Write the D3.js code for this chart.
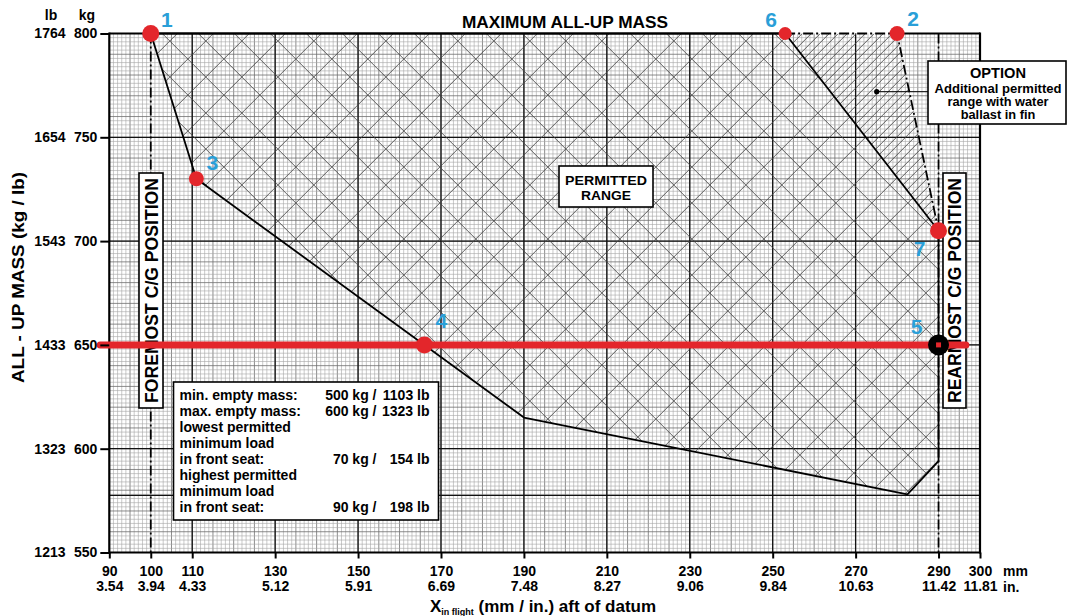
<!DOCTYPE html>
<html><head><meta charset="utf-8">
<script src="https://cdn.jsdelivr.net/npm/d3@7"></script>
<style>
html,body{margin:0;padding:0;background:#fff;}
svg{display:block;font-family:"Liberation Sans",Arial,Helvetica,sans-serif;font-weight:bold;}
</style></head><body>
<svg id="c" width="1067" height="616"></svg>
<script>
// ---------- data ----------
const mmTicks = [90,100,110,130,150,170,190,210,230,250,270,290,300];
const inchLabels = ["3.54","3.94","4.33","5.12","5.91","6.69","7.48","8.27","9.06","9.84","10.63","11.42","11.81"];
const kgTicks = [550,600,650,700,750,800];
const lbLabels = ["1213","1323","1433","1543","1654","1764"];
const majorMm = [110,130,150,170,190,210,230,250,270];
const majorKg = [600,650,700,750];
const seamKg = [577.5];
const envelopeMm = [100,111,190,282.5,290,290,253];
const envelopeKg = [800,730,615,578,594,705,800];
const optionMm = [253,280,290];
const optionKg = [800,800,705];
const pointIds = ["1","2","3","4","5","6","7"];
const pointMm = [100,280,111,166,290,253,290];
const pointKg = [800,800,730,650,650,800,705];
const foreCG = 100, rearCG = 290;
const loadKg = 650, loadFromMm = 87.8, loadToMm = 296.6;
const legendLeft = ["min. empty mass:","max. empty mass:","lowest permitted","minimum load","in front seat:","highest permitted","minimum load","in front seat:"];
const legendMid = ["500 kg /","600 kg /","","","70 kg /","","","90 kg /"];
const legendRight = ["1103 lb","1323 lb","","","154 lb","","","198 lb"];

// ---------- drawing ----------
const svg = d3.select("#c");
const x = d3.scaleLinear().domain([90,300]).range([109.3,980]);
const y = d3.scaleLinear().domain([550,800]).range([552.5,33.5]);
const X0 = x(90), X1 = x(300), Y0 = y(800), Y1 = y(550);
const RED = "#e3262b", BLUE = "#2a9fd8";

svg.append("rect").attr("width",1067).attr("height",616).attr("fill","#fff");

// fine grid
const grid = svg.append("g");
grid.selectAll(".fx").data(d3.range(91,300,1)).join("line")
  .attr("x1",d=>x(d)).attr("x2",d=>x(d)).attr("y1",Y0).attr("y2",Y1)
  .attr("stroke",d=>d%5===0?"#6e6e6e":"#a6a6a6").attr("stroke-width",d=>d%5===0?0.8:0.6);
grid.selectAll(".fy").data(d3.range(552,800,2)).join("line")
  .attr("y1",d=>y(d)).attr("y2",d=>y(d)).attr("x1",X0).attr("x2",X1)
  .attr("stroke",d=>d%10===0?"#6e6e6e":"#a6a6a6").attr("stroke-width",d=>d%10===0?0.8:0.6);
// major grid
grid.selectAll(".mx").data(majorMm).join("line")
  .attr("x1",d=>x(d)).attr("x2",d=>x(d)).attr("y1",Y0).attr("y2",Y1)
  .attr("stroke","#111").attr("stroke-width",1.3);
grid.selectAll(".my").data(majorKg.concat(seamKg)).join("line")
  .attr("y1",d=>y(d)).attr("y2",d=>y(d)).attr("x1",X0).attr("x2",X1)
  .attr("stroke","#111").attr("stroke-width",1.3);

// clip paths
const defs = svg.append("defs");
const envPts = envelopeMm.map((v,i)=>[x(v),y(envelopeKg[i])]);
const optPts = optionMm.map((v,i)=>[x(v),y(optionKg[i])]);
defs.append("clipPath").attr("id","envClip").append("path").attr("d",d3.line()(envPts)+"Z");
defs.append("clipPath").attr("id","optClip").append("path").attr("d",d3.line()(optPts)+"Z");

// cross hatch in permitted range
const H = Y1 - Y0;
const hatch = svg.append("g").attr("clip-path","url(#envClip)");
const hs = d3.range(X0 - H - 40, X1 + 40, 36);
hatch.selectAll(".h1").data(hs).join("line")
  .attr("x1",d=>d).attr("y1",Y0).attr("x2",d=>d+H).attr("y2",Y1)
  .attr("stroke","#454545").attr("stroke-width",0.85);
hatch.selectAll(".h2").data(hs).join("line")
  .attr("x1",d=>d).attr("y1",Y1).attr("x2",d=>d+H).attr("y2",Y0)
  .attr("stroke","#454545").attr("stroke-width",0.85);
// single hatch in optional range
const ohatch = svg.append("g").attr("clip-path","url(#optClip)");
ohatch.selectAll("line").data(d3.range(X0 - H, X1 + 20, 9)).join("line")
  .attr("x1",d=>d).attr("y1",Y1).attr("x2",d=>d+H).attr("y2",Y0)
  .attr("stroke","#454545").attr("stroke-width",0.85);

// CG dash-dot lines
svg.selectAll(".cg").data([foreCG,rearCG]).join("line")
  .attr("x1",d=>x(d)).attr("x2",d=>x(d)).attr("y1",Y0).attr("y2",Y1)
  .attr("stroke","#000").attr("stroke-width",1.8).attr("stroke-dasharray","10,3,2,3");

// envelope outline
svg.append("path").attr("d",d3.line()(envPts)+"Z")
  .attr("fill","none").attr("stroke","#000").attr("stroke-width",1.8).attr("stroke-linejoin","round");
// option edges (dash-dot)
svg.append("path").attr("d",d3.line()([optPts[0],optPts[1],optPts[2]]))
  .attr("fill","none").attr("stroke","#000").attr("stroke-width",1.8).attr("stroke-dasharray","10,3,2,3");

// frame
const frame = svg.append("g").attr("stroke","#000").attr("stroke-width",2.2);
frame.append("line").attr("x1",X0).attr("x2",X0).attr("y1",Y0-1).attr("y2",Y1+1);
frame.append("line").attr("x1",X1).attr("x2",X1).attr("y1",Y0-1).attr("y2",Y1+1);
frame.append("line").attr("x1",X0).attr("x2",X1).attr("y1",Y1).attr("y2",Y1);
frame.append("line").attr("x1",X0).attr("x2",x(optionMm[0])).attr("y1",Y0).attr("y2",Y0);
frame.append("line").attr("x1",x(optionMm[1])).attr("x2",X1).attr("y1",Y0).attr("y2",Y0);

// text boxes
function box(x0,y0,w,h){
  svg.append("rect").attr("x",x0).attr("y",y0).attr("width",w).attr("height",h)
    .attr("fill","#fff").attr("stroke","#000").attr("stroke-width",1.6);
}
box(139,173,24,235);
svg.append("text").attr("transform","translate(151.5,290.5) rotate(-90)")
  .attr("text-anchor","middle").attr("dy","0.36em").attr("font-size",17.5)
  .attr("textLength",225).attr("lengthAdjust","spacingAndGlyphs").text("FOREMOST C/G POSITION");
box(943,173,23,235);
svg.append("text").attr("transform","translate(955,290.5) rotate(-90)")
  .attr("text-anchor","middle").attr("dy","0.36em").attr("font-size",17.5)
  .attr("textLength",225).attr("lengthAdjust","spacingAndGlyphs").text("REARMOST C/G POSITION");

// permitted range box
box(559,166,94,41);
svg.append("text").attr("x",606).attr("y",185).attr("text-anchor","middle").attr("font-size",13.5)
  .attr("textLength",82).attr("lengthAdjust","spacingAndGlyphs").text("PERMITTED");
svg.append("text").attr("x",606).attr("y",200).attr("text-anchor","middle").attr("font-size",13.5)
  .attr("textLength",50).attr("lengthAdjust","spacingAndGlyphs").text("RANGE");

// option box
svg.append("line").attr("x1",876.7).attr("x2",928).attr("y1",91.7).attr("y2",91.7).attr("stroke","#000").attr("stroke-width",1);
svg.append("circle").attr("cx",876.7).attr("cy",91.7).attr("r",2.6).attr("fill","#000");
box(928,61,138,63);
const optLines = [["OPTION",78,14.5,56],["Additional permitted",93,12.8,127],["range with water",106,12.8,0],["ballast in fin",119,12.8,0]];
optLines.forEach(([t,yy,fs,tl])=>{
  const e = svg.append("text").attr("x",998).attr("y",yy).attr("text-anchor","middle").attr("font-size",fs).text(t);
  if(tl) e.attr("textLength",tl).attr("lengthAdjust","spacingAndGlyphs");
});

// legend box
box(173.5,382,265,138);
const lg = svg.append("g").attr("font-size",14);
legendLeft.forEach((t,i)=>{
  const yy = 400 + i*15.93;
  lg.append("text").attr("x",179.5).attr("y",yy).text(t);
  if(legendMid[i]) lg.append("text").attr("x",376.5).attr("y",yy).attr("text-anchor","end").text(legendMid[i]);
  if(legendRight[i]) lg.append("text").attr("x",429.5).attr("y",yy).attr("text-anchor","end").text(legendRight[i]);
});

// red loading line
svg.append("line").attr("x1",x(loadFromMm)).attr("x2",x(loadToMm)).attr("y1",y(loadKg)).attr("y2",y(loadKg))
  .attr("stroke",RED).attr("stroke-width",7).attr("stroke-linecap","round");

// points
const radii = {"1":8.5,"2":7.5,"3":7.5,"4":8.5,"6":6.5,"7":8.5};
const offs = {"1":[16,-14],"2":[16,-15],"3":[16,-16],"4":[17,-24],"5":[-22,-18],"6":[-14,-14],"7":[-19,18]};
pointIds.forEach((id,i)=>{
  const px = x(pointMm[i]), py = y(pointKg[i]);
  if(id==="5"){
    svg.append("circle").attr("cx",px).attr("cy",py).attr("r",10.5).attr("fill","#000");
    svg.append("rect").attr("x",px-2.5).attr("y",py-2.5).attr("width",5).attr("height",5).attr("fill",RED);
  } else {
    svg.append("circle").attr("cx",px).attr("cy",py).attr("r",radii[id]).attr("fill",RED);
  }
  svg.append("text").attr("x",px+offs[id][0]).attr("y",py+offs[id][1]).attr("dy","0.36em")
    .attr("text-anchor","middle").attr("font-size",21).attr("fill",BLUE).text(id);
});

// axes
const axStyle = g => { g.select(".domain").remove(); g.selectAll("text").attr("font-size",14).attr("font-weight","bold").attr("fill","#000").attr("font-family","Liberation Sans, Arial, sans-serif"); g.selectAll("line").attr("stroke","#000").attr("stroke-width",2); };
svg.append("g").attr("transform",`translate(${X0},0)`)
  .call(d3.axisLeft(y).tickValues(kgTicks).tickSize(9).tickPadding(3)).call(axStyle);
svg.append("g").attr("transform",`translate(65.5,0)`)
  .call(d3.axisLeft(y).tickValues(kgTicks).tickFormat((d,i)=>lbLabels[i]).tickSize(0).tickPadding(0)).call(axStyle);
svg.append("g").attr("transform",`translate(0,${Y1})`)
  .call(d3.axisBottom(x).tickValues(mmTicks).tickSize(6).tickPadding(7.5)).call(axStyle);
svg.append("g").attr("transform",`translate(0,${Y1+15.5})`)
  .call(d3.axisBottom(x).tickValues(mmTicks).tickFormat((d,i)=>inchLabels[i]).tickSize(0).tickPadding(13.5)).call(axStyle);

svg.append("text").attr("x",51).attr("y",20).attr("text-anchor","middle").attr("font-size",14).text("lb");
svg.append("text").attr("x",87).attr("y",20).attr("text-anchor","middle").attr("font-size",14).text("kg");
svg.append("text").attr("x",1003).attr("y",576).attr("font-size",14).text("mm");
svg.append("text").attr("x",1003).attr("y",591.5).attr("font-size",14).text("in.");

// titles
svg.append("text").attr("x",565).attr("y",28).attr("text-anchor","middle").attr("font-size",17)
  .attr("textLength",206).attr("lengthAdjust","spacingAndGlyphs").text("MAXIMUM ALL-UP MASS");
svg.append("text").attr("transform","translate(18,277.5) rotate(-90)").attr("text-anchor","middle")
  .attr("dy","0.36em").attr("font-size",17).attr("textLength",211).attr("lengthAdjust","spacingAndGlyphs")
  .text("ALL - UP MASS (kg / lb)");
const xt = svg.append("text").attr("x",430).attr("y",612).attr("font-size",17);
xt.append("tspan").text("X");
xt.append("tspan").attr("font-size",9).attr("dy",3).text("in flight");
xt.append("tspan").attr("dy",-3).text(" (mm / in.) aft of datum");
</script>
</body></html>
